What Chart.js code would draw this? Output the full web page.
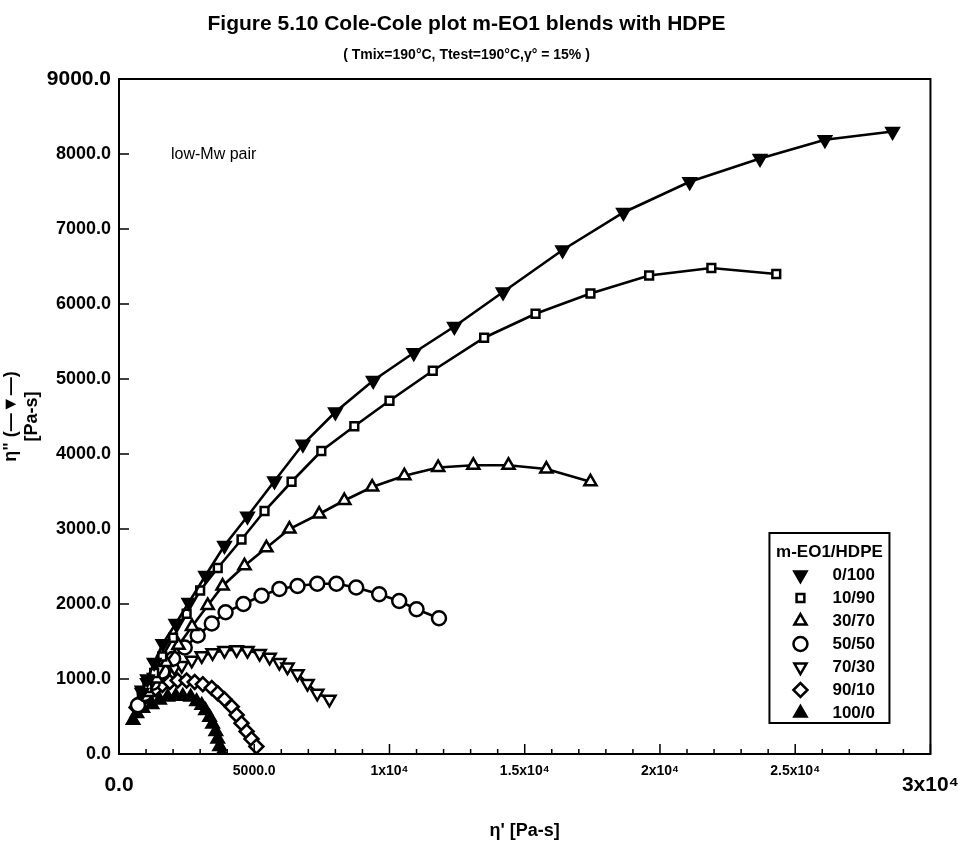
<!DOCTYPE html>
<html>
<head>
<meta charset="utf-8">
<script src="https://cdn.jsdelivr.net/npm/chart.js@4.4.1/dist/chart.umd.min.js"></script>
<style>
  html, body { margin: 0; padding: 0; background: #fff; }
  #wrap { width: 968px; height: 850px; }
</style>
</head>
<body>
<div id="wrap"><canvas id="myChart" width="968" height="850"></canvas></div>
<script>
// blend ratios m-EO1/HDPE
const blends = ['0/100', '10/90', '30/70', '50/50', '70/30', '90/10', '100/0'];

// eta' (x) and eta'' (y) in Pa-s
const etaP_0_100 = [850, 1050, 1300, 1620, 2100, 2580, 3200, 3900, 4750, 5750, 6800, 8000, 9400, 10900, 12400, 14200, 16400, 18650, 21100, 23700, 26100, 28600];
const etaPP_0_100 = [820, 1000, 1220, 1470, 1740, 2020, 2380, 2780, 3170, 3640, 4130, 4560, 4980, 5350, 5700, 6160, 6720, 7220, 7630, 7940, 8190, 8300];

const etaP_10_90 = [1050, 1300, 1600, 2000, 2500, 3000, 3650, 4530, 5380, 6380, 7480, 8700, 10000, 11600, 13500, 15400, 17430, 19600, 21900, 24300];
const etaPP_10_90 = [880, 1080, 1300, 1550, 1870, 2180, 2480, 2860, 3240, 3630, 4040, 4370, 4710, 5110, 5550, 5870, 6140, 6380, 6480, 6400];

const etaP_30_70 = [1100, 1400, 1750, 2200, 2700, 3280, 3830, 4640, 5450, 6300, 7400, 8330, 9360, 10550, 11800, 13100, 14400, 15800, 17430];
const etaPP_30_70 = [820, 1000, 1220, 1450, 1700, 1980, 2240, 2510, 2750, 3000, 3200, 3380, 3560, 3710, 3820, 3850, 3850, 3800, 3630];

const etaP_50_50 = [700, 950, 1250, 1600, 2000, 2430, 2910, 3430, 3940, 4600, 5270, 5930, 6600, 7330, 8040, 8770, 9620, 10360, 11000, 11830];
const etaPP_50_50 = [650, 800, 950, 1100, 1270, 1420, 1580, 1740, 1890, 2000, 2110, 2200, 2240, 2270, 2270, 2220, 2130, 2040, 1930, 1810];

const etaP_70_30 = [850, 1050, 1300, 1550, 1800, 2050, 2320, 2690, 3060, 3460, 3900, 4350, 4750, 5200, 5570, 5930, 6230, 6600, 6970, 7330, 7780];
const etaPP_70_30 = [850, 950, 1020, 1080, 1120, 1150, 1180, 1250, 1310, 1350, 1380, 1390, 1380, 1340, 1290, 1220, 1160, 1070, 940, 810, 730];

const etaP_90_10 = [650, 850, 1100, 1350, 1600, 1880, 2170, 2500, 2800, 3100, 3430, 3650, 3900, 4170, 4350, 4530, 4720, 4900, 5080];
const etaPP_90_10 = [620, 720, 800, 870, 920, 960, 980, 980, 960, 930, 880, 810, 730, 630, 520, 410, 300, 200, 100];

const etaP_100_0 = [520, 660, 880, 1220, 1500, 1800, 2100, 2360, 2650, 2870, 3060, 3200, 3350, 3460, 3580, 3650, 3720, 3800];
const etaPP_100_0 = [450, 540, 610, 660, 720, 760, 770, 770, 760, 700, 650, 580, 490, 400, 300, 200, 100, 10];

const xTicks = [0, 5000, 10000, 15000, 20000, 25000, 30000];
const xTickLabels = ['0.0', '5000.0', '1x10⁴', '1.5x10⁴', '2x10⁴', '2.5x10⁴', '3x10⁴'];

const FONT = '"Liberation Sans", Arial, sans-serif';

function pts(xs, ys) {
  return xs.map((x, i) => ({ x: x, y: ys[i] }));
}

// marker style per blend
const markers = [
  { style: 'triangle', rot: 180, fill: '#000' },
  { style: 'rect', rot: 0, fill: '#fff' },
  { style: 'triangle', rot: 0, fill: '#fff' },
  { style: 'circle', rot: 0, fill: '#fff' },
  { style: 'triangle', rot: 180, fill: '#fff' },
  { style: 'rectRot', rot: 0, fill: '#fff' },
  { style: 'triangle', rot: 0, fill: '#000' }
];

const series = [
  pts(etaP_0_100, etaPP_0_100),
  pts(etaP_10_90, etaPP_10_90),
  pts(etaP_30_70, etaPP_30_70),
  pts(etaP_50_50, etaPP_50_50),
  pts(etaP_70_30, etaPP_70_30),
  pts(etaP_90_10, etaPP_90_10),
  pts(etaP_100_0, etaPP_100_0)
];

const datasets = series.map((d, i) => ({
  label: blends[i],
  data: d,
  showLine: true,
  borderColor: '#000',
  borderWidth: 2.6,
  pointStyle: markers[i].style,
  pointRotation: markers[i].rot,
  pointRadius: markers[i].style === 'rect' ? 5.5 : 7,
  pointBorderWidth: 2.5,
  pointBackgroundColor: markers[i].fill,
  pointBorderColor: '#000'
}));

// box, inward ticks, note text and the legend box
const framePlugin = {
  id: 'frame',
  afterDraw(chart) {
    const ctx = chart.ctx;
    const a = chart.chartArea;
    const xs = chart.scales.x, ys = chart.scales.y;
    ctx.save();
    ctx.strokeStyle = '#000';
    ctx.lineWidth = 2;
    ctx.strokeRect(a.left, a.top, a.right - a.left, a.bottom - a.top);

    ctx.lineWidth = 1.5;
    ctx.beginPath();
    for (let v = 0; v <= 30000; v += 1000) {
      const px = xs.getPixelForValue(v);
      const len = v % 5000 === 0 ? 10 : 5;
      ctx.moveTo(px, a.bottom);
      ctx.lineTo(px, a.bottom - len);
    }
    for (let v = 0; v <= 9000; v += 1000) {
      const py = ys.getPixelForValue(v);
      ctx.moveTo(a.left, py);
      ctx.lineTo(a.left + 10, py);
    }
    ctx.stroke();

    ctx.fillStyle = '#000';
    ctx.font = '16px ' + FONT;
    ctx.textBaseline = 'middle';
    ctx.textAlign = 'left';
    ctx.fillText('low-Mw pair', a.left + 52, a.top + 76);

    // legend box
    const bx = a.right - 161, by = a.bottom - 221, bw = 120, bh = 190;
    ctx.lineWidth = 2;
    ctx.strokeRect(bx, by, bw, bh);
    ctx.font = 'bold 17px ' + FONT;
    ctx.textAlign = 'center';
    ctx.fillText('m-EO1/HDPE', bx + bw / 2, by + 19);
    chart.data.datasets.forEach((ds, i) => {
      const y = by + 42 + i * 23;
      ctx.fillStyle = ds.pointBackgroundColor;
      ctx.strokeStyle = '#000';
      ctx.lineWidth = 2.5;
      Chart.helpers.drawPoint(ctx, {
        pointStyle: ds.pointStyle,
        rotation: ds.pointRotation,
        radius: ds.pointStyle === 'rect' ? 5.5 : 7,
        borderWidth: 2.5
      }, bx + 31, y);
      ctx.fillStyle = '#000';
      ctx.textAlign = 'left';
      ctx.font = 'bold 17px ' + FONT;
      ctx.fillText(ds.label, bx + 63, y);
    });
    ctx.restore();
  }
};

new Chart(document.getElementById('myChart'), {
  type: 'scatter',
  data: { datasets: datasets },
  plugins: [framePlugin],
  options: {
    responsive: false,
    animation: false,
    layout: { padding: { left: 0, right: 35, top: 0, bottom: 0 } },
    plugins: {
      legend: { display: false },
      tooltip: { enabled: false },
      title: {
        display: true,
        text: 'Figure 5.10 Cole-Cole plot m-EO1 blends with HDPE',
        color: '#000',
        font: { family: FONT, size: 21, weight: 'bold' },
        padding: { top: 12, bottom: 10 }
      },
      subtitle: {
        display: true,
        text: '( Tmix=190°C, Ttest=190°C,γ° = 15% )',
        color: '#000',
        font: { family: FONT, size: 14, weight: 'bold' },
        padding: { top: 0, bottom: 15 }
      }
    },
    scales: {
      x: {
        type: 'linear',
        min: 0,
        max: 30000,
        afterFit: s => { s.height = 96; },
        afterBuildTicks: s => { s.ticks = xTicks.map(v => ({ value: v })); },
        grid: { display: false, drawTicks: false },
        border: { display: true, color: '#000', width: 2 },
        ticks: {
          color: '#000',
          padding: 9,
          maxRotation: 0,
          autoSkip: false,
          callback: (v) => xTickLabels[xTicks.indexOf(v)],
          font: (c) => {
            const big = c.tick && (c.tick.value === 0 || c.tick.value === 30000);
            return big
              ? { family: FONT, size: 21, weight: 'bold', lineHeight: 2.1 }
              : { family: FONT, size: 14, weight: 'bold' };
          }
        },
        title: {
          display: true,
          text: "η' [Pa-s]",
          color: '#000',
          font: { family: FONT, size: 18, weight: 'bold' },
          padding: { top: 0, bottom: 8 }
        }
      },
      y: {
        type: 'linear',
        min: 0,
        max: 9000,
        afterFit: s => { s.width = 119; },
        grid: { display: false, drawTicks: false },
        border: { display: true, color: '#000', width: 2 },
        ticks: {
          stepSize: 1000,
          color: '#000',
          padding: 8,
          callback: (v) => v.toFixed(1),
          font: (c) => {
            const big = c.tick && c.tick.value === 9000;
            return { family: FONT, size: big ? 21 : 18, weight: 'bold' };
          }
        },
        title: {
          display: true,
          text: ['η" (—▼—)', '[Pa-s]'],
          color: '#000',
          font: { family: FONT, size: 18, weight: 'bold' },
          padding: { top: 0, bottom: 0 }
        }
      }
    }
  }
});
</script>
</body>
</html>
